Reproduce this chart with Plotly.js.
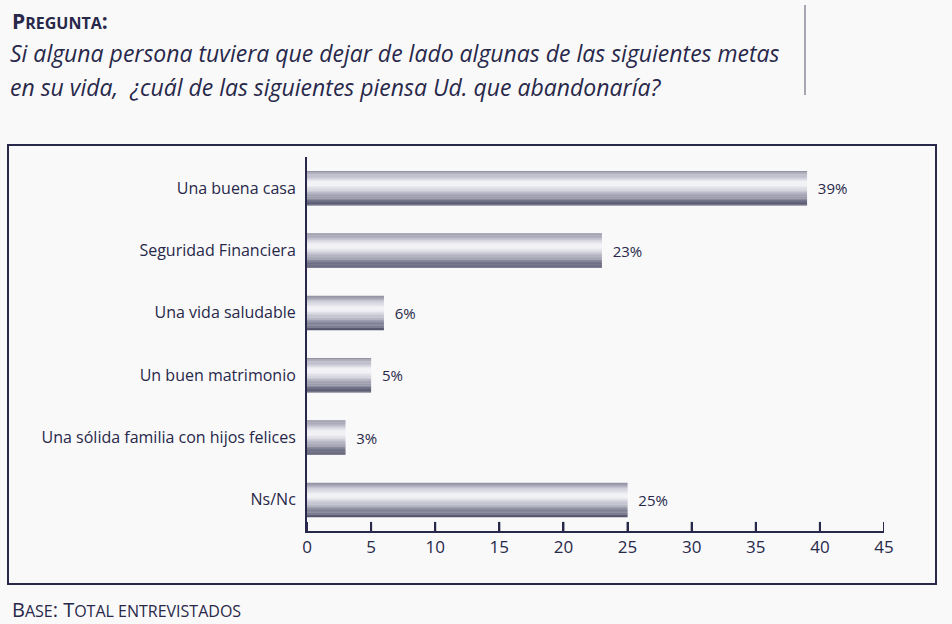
<!DOCTYPE html>
<html><head><meta charset="utf-8">
<script src="https://cdn.plot.ly/plotly-3.0.1.min.js"></script>
<style>html,body{margin:0;padding:0;background:#f9f9f9}</style>
</head><body><div id="chart" style="width:952px;height:624px"></div>
<script>
const categories = ["Una buena casa","Seguridad Financiera","Una vida saludable","Un buen matrimonio","Una sólida familia con hijos felices","Ns/Nc"];
const values = [39, 23, 6, 5, 3, 25];
const valueLabels = ["39%","23%","6%","5%","3%","25%"];
const xTicks = [0,5,10,15,20,25,30,35,40,45];
const xTickLabels = ["0","5","10","15","20","25","30","35","40","45"];

// cylinder-like shading stops (0 = top edge of bar, 1 = bottom edge), styling only
const stops = [[0,[140,140,158]],[0.15,[190,190,204]],[0.32,[240,240,245]],[0.42,[242,242,246]],[0.58,[200,200,212]],[0.75,[150,150,168]],[0.9,[104,104,128]],[1,[80,80,104]]];
function shadeAt(t){
  for (let k = 1; k < stops.length; k++) {
    if (t <= stops[k][0]) {
      const [t0,c0] = stops[k-1], [t1,c1] = stops[k];
      const f = (t - t0) / (t1 - t0);
      return 'rgb(' + c0.map((v,j)=>Math.round(v + (c1[j]-v)*f)).join(',') + ')';
    }
  }
  return 'rgb(' + stops[stops.length-1][1].join(',') + ')';
}
const nStrips = 30;
const barW = 0.55;
const sw = barW / nStrips;
const ink = '#28284a';

const traces = [];
for (let i = 0; i < nStrips; i++) {
  traces.push({
    type: 'bar', orientation: 'h', x: values, y: categories,
    width: sw * 1.15, offset: -barW / 2 + i * sw,
    marker: {color: shadeAt((i + 0.5) / nStrips), line: {width: 0}}, hoverinfo: 'skip', showlegend: false
  });
}
traces.push({
  type: 'bar', orientation: 'h', x: values, y: categories,
  width: barW, offset: -barW / 2,
  marker: {color: 'rgba(0,0,0,0)', line: {width: 0}},
  text: valueLabels, texttemplate: '  %{text}', textposition: 'outside',
  textfont: {family: 'Open Sans', size: 15, color: ink}, hoverinfo: 'skip', showlegend: false
});
// upward tick marks on the value axis (lower half clipped by the plot area)
traces.push({
  type: 'scatter', mode: 'markers', x: xTicks, y: xTicks.map(() => 0), yaxis: 'y2',
  marker: {symbol: 'line-ns', size: 13, color: ink, line: {color: ink, width: 2}},
  hoverinfo: 'skip', showlegend: false
});

const L = 307, R = 884, T = 157, B = 531;
const px = v => (v - L) / (R - L);
const py = v => (B - v) / (B - T);

const layout = {
  width: 952, height: 624,
  margin: {l: L, r: 952 - R, t: T, b: 624 - B},
  paper_bgcolor: '#f9f9f9', plot_bgcolor: '#f9f9f9',
  barmode: 'overlay', showlegend: false,
  font: {family: 'Open Sans', color: ink},
  xaxis: {
    range: [0, 45], tickvals: xTicks, ticktext: xTickLabels,
    ticks: 'inside', ticklen: 9, tickwidth: 2, tickcolor: ink,
    showline: true, linecolor: ink, linewidth: 2, layer: 'above traces',
    showgrid: false, zeroline: false,
    tickfont: {family: 'Open Sans', size: 17, color: ink}
  },
  yaxis: {
    type: 'category', range: [5.5, -0.5],
    showline: true, linecolor: ink, linewidth: 2, layer: 'above traces',
    ticks: '', showgrid: false, zeroline: false, ticklabelstandoff: 6,
    tickfont: {family: 'Open Sans', size: 16, color: ink}
  },
  yaxis2: {overlaying: 'y', range: [0, 1], visible: false, fixedrange: true},
  shapes: [
    {type: 'rect', xref: 'paper', yref: 'paper', layer: 'below', x0: px(8), x1: px(936), y0: py(584), y1: py(145),
     line: {color: ink, width: 2}, fillcolor: 'rgba(0,0,0,0)'},
    {type: 'line', xref: 'paper', yref: 'paper', layer: 'below', x0: px(805), x1: px(805), y0: py(95), y1: py(5),
     line: {color: '#55556a', width: 1}}
  ],
  annotations: [
    {xref: 'paper', yref: 'paper', x: px(10), y: py(21), xanchor: 'left', yanchor: 'middle', showarrow: false,
     text: '<b>P<span style="font-size:16px">REGUNTA</span>:</b>', font: {family: 'Open Sans', size: 21, color: ink}},
    {xref: 'paper', yref: 'paper', x: px(8), y: py(53), xanchor: 'left', yanchor: 'middle', showarrow: false,
     text: '<i>Si alguna persona tuviera que dejar de lado algunas de las siguientes metas</i>', font: {family: 'Open Sans', size: 23, color: ink}},
    {xref: 'paper', yref: 'paper', x: px(8), y: py(87), xanchor: 'left', yanchor: 'middle', showarrow: false,
     text: '<i>en su vida,  ¿cuál de las siguientes piensa Ud. que abandonaría?</i>', font: {family: 'Open Sans', size: 23, color: ink}},
    {xref: 'paper', yref: 'paper', x: px(10), y: py(609), xanchor: 'left', yanchor: 'middle', showarrow: false,
     text: 'B<span style="font-size:16px">ASE</span>: T<span style="font-size:16px">OTAL ENTREVISTADOS</span>', font: {family: 'Open Sans', size: 20, color: ink}}
  ]
};

Plotly.newPlot('chart', traces, layout, {displayModeBar: false, staticPlot: true});
</script></body></html>
